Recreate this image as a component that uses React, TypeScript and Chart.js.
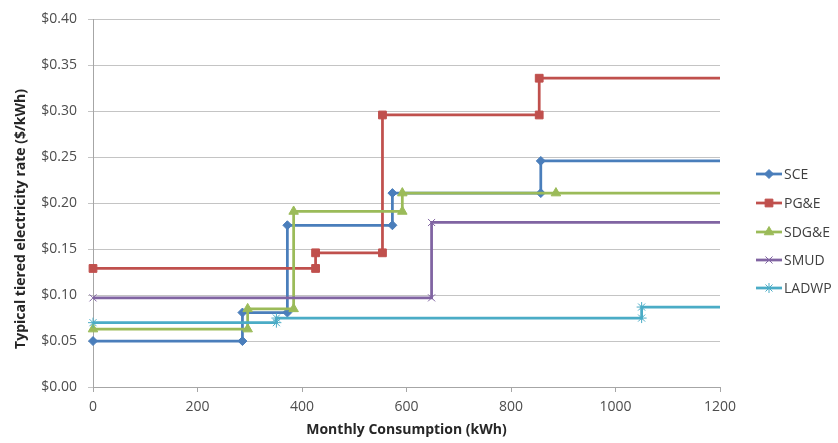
import React, { useEffect, useRef } from "react";
import { Chart, registerables } from "chart.js";
import { drawPoint } from "chart.js/helpers";

Chart.register(...registerables);

// ---- data ----
const seriesNames = ["SCE", "PG&E", "SDG&E", "SMUD", "LADWP"];

const sceX = [0, 286, 286, 372, 372, 573, 573, 857, 857, 1200];
const sceY = [0.05, 0.05, 0.081, 0.081, 0.176, 0.176, 0.211, 0.211, 0.246, 0.246];

const pgeX = [0, 426, 426, 554, 554, 854, 854, 1200];
const pgeY = [0.129, 0.129, 0.146, 0.146, 0.296, 0.296, 0.336, 0.336];

const sdgeX = [0, 296, 296, 384, 384, 592, 592, 886, 1200];
const sdgeY = [0.063, 0.063, 0.085, 0.085, 0.191, 0.191, 0.211, 0.211, 0.211];

const smudX = [0, 648, 648, 1200];
const smudY = [0.097, 0.097, 0.179, 0.179];

const ladwpX = [0, 351, 351, 1050, 1050, 1200];
const ladwpY = [0.07, 0.07, 0.075, 0.075, 0.087, 0.087];

const xTicks = [0, 200, 400, 600, 800, 1000, 1200];
const yTicks = [0, 0.05, 0.1, 0.15, 0.2, 0.25, 0.3, 0.35, 0.4];

const xTitle = "Monthly Consumption (kWh)";
const yTitle = "Typical tiered electricity rate ($/kWh)";

// ---- styles ----
const FONT = "'Open Sans', 'Liberation Sans', sans-serif";
const styles = [
  { color: "#4A7EBB", point: "rectRot", r: 4.5, bw: 1 },
  { color: "#C0504D", point: "rect", r: 5.5, bw: 1 },
  { color: "#9BBB59", point: "triangle", r: 5.5, bw: 1 },
  { color: "#8064A2", point: "crossRot", r: 5, bw: 1 },
  { color: "#4BACC6", point: "star", r: 5, bw: 1 },
];

const toPts = (xs: number[], ys: number[]) => xs.map((x, i) => ({ x, y: ys[i] }));
const allData = [
  toPts(sceX, sceY),
  toPts(pgeX, pgeY),
  toPts(sdgeX, sdgeY),
  toPts(smudX, smudY),
  toPts(ladwpX, ladwpY),
];

const overlayPlugin = {
  id: "overlay",
  afterDraw(chart: any) {
    const ctx = chart.ctx;
    const area = chart.chartArea;
    ctx.save();
    // axis titles
    ctx.fillStyle = "#262626";
    ctx.font = `bold 14px ${FONT}`;
    ctx.textAlign = "center";
    ctx.textBaseline = "middle";
    ctx.fillText(xTitle, (area.left + area.right) / 2, 430);
    ctx.save();
    ctx.translate(21, 219);
    ctx.rotate(-Math.PI / 2);
    ctx.fillText(yTitle, 0, 0);
    ctx.restore();
    // legend
    const legendY = [174, 203, 232, 260, 288];
    ctx.font = `14px ${FONT}`;
    ctx.textAlign = "left";
    seriesNames.forEach((name, i) => {
      const s = styles[i];
      const y = legendY[i];
      ctx.strokeStyle = s.color;
      ctx.lineWidth = 2.75;
      ctx.beginPath();
      ctx.moveTo(756, y);
      ctx.lineTo(782, y);
      ctx.stroke();
      ctx.fillStyle = s.color;
      ctx.strokeStyle = s.color;
      ctx.lineWidth = s.bw;
      drawPoint(ctx, { pointStyle: s.point, radius: s.r, borderWidth: s.bw, rotation: 0 }, 769, y);
      ctx.fillStyle = "#404040";
      ctx.fillText(name, 784, y + 1);
    });
    ctx.restore();
  },
};

export default function App() {
  const ref = useRef<HTMLCanvasElement>(null);
  useEffect(() => {
    if (!ref.current) return;
    const chart = new Chart(ref.current, {
      type: "scatter",
      data: {
        datasets: allData.map((d, i) => ({
          label: seriesNames[i],
          data: d,
          showLine: true,
          borderColor: styles[i].color,
          backgroundColor: styles[i].color,
          borderWidth: 2.75,
          pointStyle: styles[i].point as any,
          pointRadius: (c: any) => (c.raw && c.raw.x >= 1200 ? 0 : styles[i].r),
          pointBorderWidth: styles[i].bw,
          pointBorderColor: styles[i].color,
          pointBackgroundColor: styles[i].color,
          clip: false as any,
          order: 5 - i,
        })),
      },
      options: {
        animation: false,
        responsive: true,
        maintainAspectRatio: false,
        layout: { padding: { top: 17, right: 118, left: 0, bottom: 0 } },
        plugins: { legend: { display: false }, tooltip: { enabled: false } },
        scales: {
          x: {
            type: "linear",
            min: 0,
            max: 1200,
            afterFit: (s: any) => {
              s.height = 56;
            },
            afterBuildTicks: (s: any) => {
              s.ticks = xTicks.map((v) => ({ value: v }));
            },
            ticks: {
              color: "#4d4d4d",
              font: { family: FONT, size: 14 },
              padding: 7,
              maxRotation: 0,
              callback: (v: any) => String(v),
            },
            grid: {
              drawOnChartArea: false,
              drawTicks: true,
              tickLength: 5,
              color: "#a6a6a6",
            },
            border: { color: "#a6a6a6" },
          },
          y: {
            type: "linear",
            min: 0,
            max: 0.4,
            afterFit: (s: any) => {
              s.width = 93;
            },
            afterBuildTicks: (s: any) => {
              s.ticks = yTicks.map((v) => ({ value: v }));
            },
            ticks: {
              color: "#4d4d4d",
              font: { family: FONT, size: 14 },
              padding: 11,
              callback: (v: any) => "$" + Number(v).toFixed(2),
            },
            grid: {
              color: "#c4c4c4",
              drawTicks: true,
              tickLength: 5,
            },
            border: { color: "#a6a6a6" },
          },
        },
      },
      plugins: [overlayPlugin],
    });
    return () => chart.destroy();
  }, []);
  return (
    <div style={{ position: "absolute", left: 0, top: 0, width: 838, height: 443, background: "#fff" }}>
      <canvas ref={ref} />
    </div>
  );
}
